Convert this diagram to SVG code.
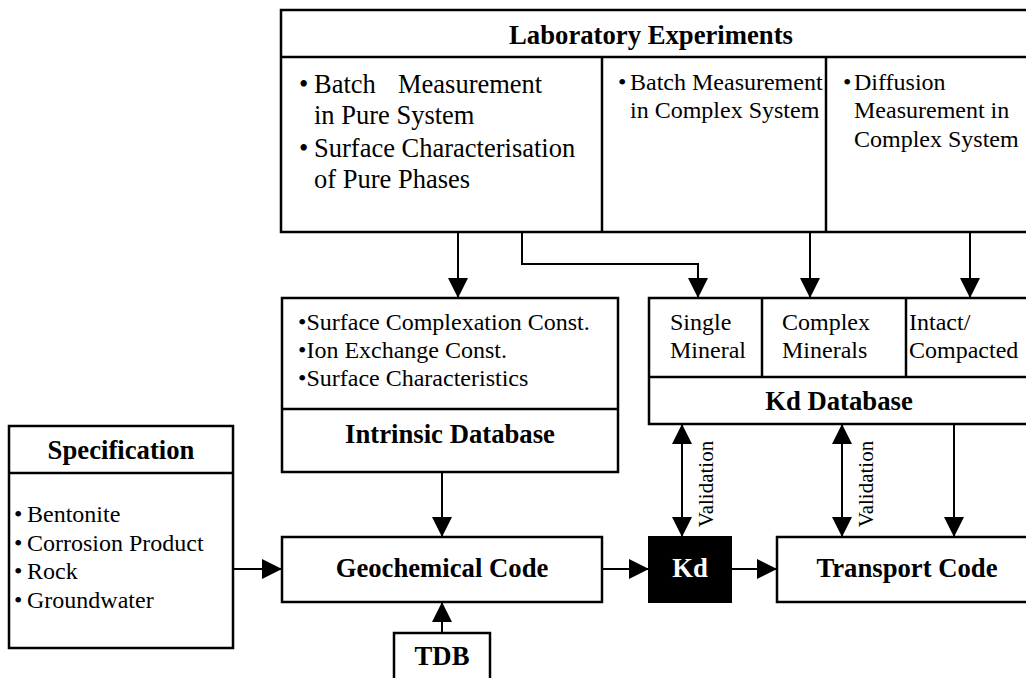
<svg xmlns="http://www.w3.org/2000/svg" width="1026" height="678" viewBox="0 0 1026 678">
<style>
text{font-family:"Liberation Serif","Times New Roman",serif;fill:#000}
.b{font-weight:bold;font-size:26.7px;text-anchor:middle}
.t24{font-size:24px}
.t26{font-size:26.5px}
.box{fill:#fff;stroke:#000;stroke-width:2.5}
.ln{stroke:#000;stroke-width:2.5;fill:none}
.c{stroke:#000;stroke-width:2;fill:none}
.v{font-size:21px;text-anchor:middle}
</style>
<defs>
<marker id="ah" markerUnits="userSpaceOnUse" markerWidth="20" markerHeight="20" viewBox="0 0 20 20" refX="20" refY="10" orient="auto-start-reverse">
<path d="M0,0 L20,10 L0,20 z" fill="#000"/>
</marker>
</defs>
<rect width="1026" height="678" fill="#fff"/>

<g id="lab">
<rect class="box" x="281" y="10" width="760" height="222"/>
<line class="ln" x1="281" y1="57" x2="1041" y2="57"/>
<line class="ln" x1="602" y1="57" x2="602" y2="232"/>
<line class="ln" x1="826" y1="57" x2="826" y2="232"/>
<text class="b" x="651" y="44">Laboratory Experiments</text>
<text class="t26"><tspan x="299" y="93">•</tspan><tspan x="314" y="93">Batch</tspan><tspan x="398" y="93">Measurement</tspan><tspan x="314" y="124">in Pure System</tspan><tspan x="299" y="157">•</tspan><tspan x="314" y="157">Surface Characterisation</tspan><tspan x="314" y="188">of Pure Phases</tspan></text>
<text class="t24"><tspan x="618" y="90">•</tspan><tspan x="630" y="90">Batch Measurement</tspan><tspan x="630" y="118">in Complex System</tspan></text>
<text class="t24"><tspan x="843" y="90">•</tspan><tspan x="854" y="90">Diffusion</tspan><tspan x="854" y="118">Measurement in</tspan><tspan x="854" y="147">Complex System</tspan></text>
</g>

<g id="intrinsic">
<rect class="box" x="282" y="298" width="336" height="174"/>
<line class="ln" x1="282" y1="409" x2="618" y2="409"/>
<text class="t24"><tspan x="298" y="330">•Surface Complexation Const.</tspan><tspan x="298" y="358">•Ion Exchange Const.</tspan><tspan x="298" y="386">•Surface Characteristics</tspan></text>
<text class="b" x="450" y="443">Intrinsic Database</text>
</g>

<g id="kddb">
<rect class="box" x="649" y="298" width="392" height="126"/>
<line class="ln" x1="649" y1="377" x2="1041" y2="377"/>
<line class="ln" x1="762" y1="298" x2="762" y2="377"/>
<line class="ln" x1="906" y1="298" x2="906" y2="377"/>
<text class="t24"><tspan x="670" y="330">Single</tspan><tspan x="670" y="358">Mineral</tspan></text>
<text class="t24"><tspan x="782" y="330">Complex</tspan><tspan x="782" y="358">Minerals</tspan></text>
<text class="t24"><tspan x="909" y="330">Intact/</tspan><tspan x="909" y="358">Compacted</tspan></text>
<text class="b" x="839" y="410">Kd Database</text>
</g>

<g id="spec">
<rect class="box" x="9" y="426" width="224" height="222"/>
<line class="ln" x1="9" y1="473" x2="233" y2="473"/>
<text class="b" x="121" y="459">Specification</text>
<text class="t24"><tspan x="14" y="522">•</tspan><tspan x="27" y="522">Bentonite</tspan><tspan x="14" y="551">•</tspan><tspan x="27" y="551">Corrosion Product</tspan><tspan x="14" y="579">•</tspan><tspan x="27" y="579">Rock</tspan><tspan x="14" y="608">•</tspan><tspan x="27" y="608">Groundwater</tspan></text>
</g>

<g id="geochem">
<rect class="box" x="282" y="537" width="320" height="65"/>
<text class="b" x="442" y="577">Geochemical Code</text>
</g>

<g id="tdb">
<rect class="box" x="394" y="633" width="96" height="60"/>
<text class="b" x="442" y="665">TDB</text>
</g>

<g id="kd">
<rect x="649" y="537" width="82" height="65" fill="#000" stroke="#000" stroke-width="2"/>
<text class="b" x="690" y="577" style="fill:#fff">Kd</text>
</g>

<g id="transport">
<rect class="box" x="777" y="537" width="264" height="65"/>
<text class="b" x="907" y="577">Transport Code</text>
</g>

<g id="connectors">
<path class="c" d="M458,232 V298" marker-end="url(#ah)"/>
<path class="c" d="M522,232 V264 H698 V298" marker-end="url(#ah)"/>
<path class="c" d="M810,232 V298" marker-end="url(#ah)"/>
<path class="c" d="M970,232 V298" marker-end="url(#ah)"/>
<path class="c" d="M442,472 V537" marker-end="url(#ah)"/>
<path class="c" d="M442,633 V602" marker-end="url(#ah)"/>
<path class="c" d="M233,569 H282" marker-end="url(#ah)"/>
<path class="c" d="M602,569 H649" marker-end="url(#ah)"/>
<path class="c" d="M731,569 H777" marker-end="url(#ah)"/>
<path class="c" d="M682,424 V537" marker-start="url(#ah)" marker-end="url(#ah)"/>
<path class="c" d="M842,424 V537" marker-start="url(#ah)" marker-end="url(#ah)"/>
<path class="c" d="M954,424 V537" marker-end="url(#ah)"/>
<text class="v" transform="translate(713,484) rotate(-90)">Validation</text>
<text class="v" transform="translate(873,484) rotate(-90)">Validation</text>
</g>
</svg>
